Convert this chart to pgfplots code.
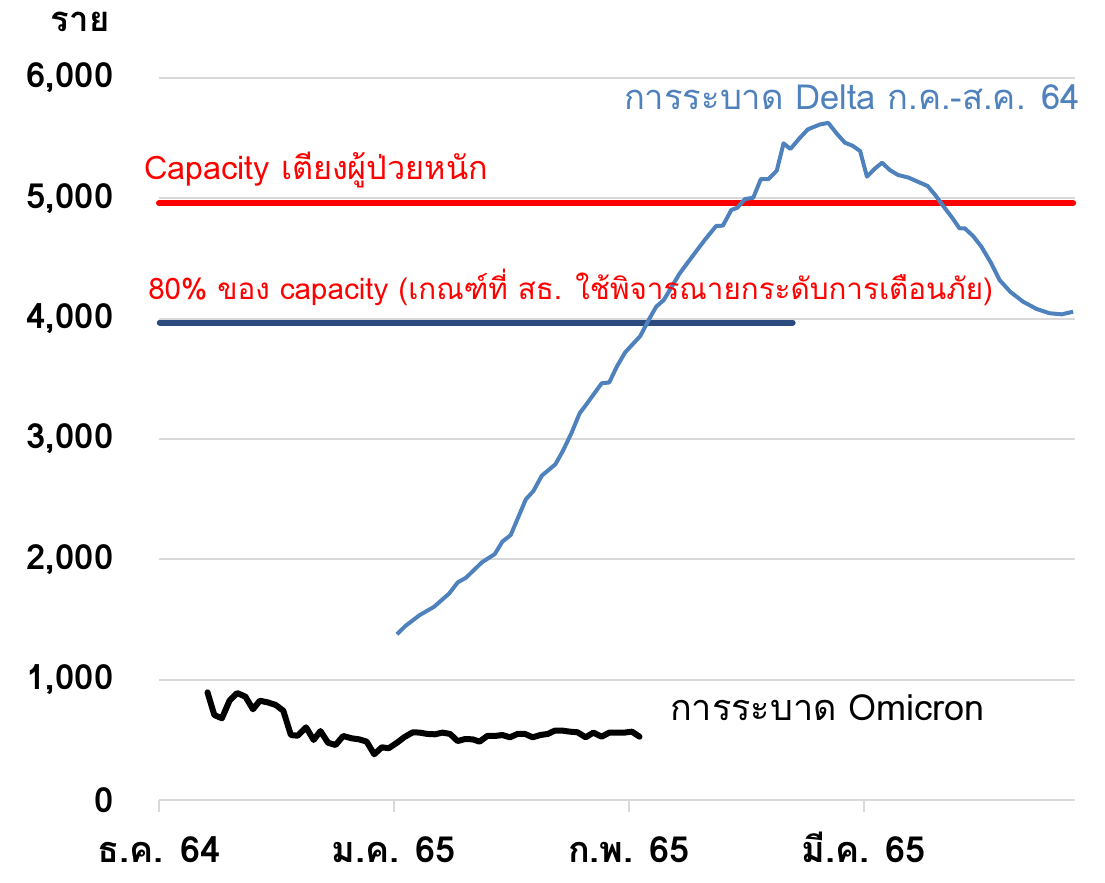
\documentclass[border=0pt]{standalone}
\usepackage{pgfplots}
\pgfplotsset{compat=1.18}
\usepackage{fontspec}
\setmainfont[Script=Thai]{Loma}
\definecolor{deltablue}{HTML}{4F81BD}
\definecolor{capred}{HTML}{FF0000}
\definecolor{navy}{HTML}{2B4A7E}
\definecolor{gridgray}{HTML}{D9D9D9}
\begin{document}
\begin{tikzpicture}
\begin{axis}[
  scale only axis, width=687pt, height=541.5pt,
  xmin=0, xmax=120.85, ymin=0, ymax=6000,
  clip=false,
  axis x line*=bottom, axis y line*=left,
  y axis line style={draw=none},
  x axis line style={draw=gridgray, line width=1.5pt},
  ymajorgrids, grid style={draw=gridgray, line width=1.5pt},
  ytick={0,1000,...,6000},
  xtick={0,31,62,93},
  xticklabels={ธ.ค. 64, ม.ค. 65, ก.พ. 65, มี.ค. 65},
  tick align=outside,
  y tick style={draw=none},
  x tick style={draw=gridgray, line width=1.5pt},
  major tick length=9pt,
  /pgf/number format/assume math mode=true,
  /pgf/number format/1000 sep={,},
  yticklabel style={font=\fontsize{26}{30}\selectfont\bfseries, anchor=east, inner sep=0pt, xshift=-25pt},
  xticklabel style={font=\fontsize{27}{30}\selectfont\bfseries, anchor=base, inner sep=0pt, yshift=-38pt},
]
\addplot[capred, line width=4.5pt, line cap=round] coordinates {(0,4960) (120.6,4960)};
\addplot[navy, line width=4.5pt, line cap=round] coordinates {(0.1,3968) (83.6,3968)};
\addplot[deltablue, line width=3pt, line join=round] coordinates {
(31.4,1377) (32.5,1446) (34.4,1537) (36.3,1606) (38.3,1717) (39.4,1808) (40.5,1847)
(42.6,1975) (44.3,2044) (45.3,2147) (46.4,2202) (48.4,2499) (49.4,2568) (50.5,2695)
(52.3,2790) (53.3,2903) (54.4,3047) (55.5,3214) (56.4,3289) (58.4,3463) (59.4,3470)
(60.4,3601) (61.5,3720) (63.5,3856) (64.6,3989) (65.6,4100) (66.6,4155) (68.7,4377)
(70.5,4529) (72.0,4654) (73.5,4770) (74.4,4773) (75.5,4903) (76.3,4922) (77.3,4994)
(78.4,5005) (79.4,5160) (80.4,5160) (81.5,5230) (82.4,5457) (83.3,5410) (84.5,5499)
(85.6,5573) (87.2,5614) (88.3,5627) (89.4,5539) (90.5,5462) (91.5,5437) (92.5,5393)
(93.4,5180) (94.5,5250) (95.4,5296) (96.4,5236) (97.5,5194) (98.9,5172) (100.4,5130)
(101.4,5103) (102.4,5028) (103.7,4917) (104.7,4834) (105.6,4751) (106.3,4751) (107.4,4687)
(108.5,4598) (109.8,4460) (110.9,4321) (112.3,4224) (114.0,4141) (115.8,4080) (117.5,4045)
(119.1,4036) (120.6,4058)
};
\addplot[black, line width=4.5pt, line join=round, line cap=round] coordinates {
(6.4,895) (7.3,706) (8.3,679) (9.3,825) (10.3,889) (11.4,859) (12.4,754) (13.3,825)
(14.3,812) (15.4,790) (16.4,742) (17.4,540) (18.3,534) (19.4,604) (20.4,499) (21.3,573)
(22.3,476) (23.3,457) (24.3,532) (25.4,513) (26.4,504) (27.4,485) (28.4,380) (29.4,438)
(30.3,430) (31.4,476) (32.4,524) (33.5,563) (34.4,560) (35.4,549) (36.4,546) (37.4,560)
(38.4,549) (39.4,490) (40.4,507) (41.4,504) (42.3,485) (43.3,532) (44.3,532) (45.3,540)
(46.3,521) (47.3,549) (48.3,549) (49.3,521) (50.3,540) (51.3,549) (52.2,576) (53.3,576)
(54.2,568) (55.2,563) (56.3,521) (57.3,560) (58.4,526) (59.4,560) (60.4,560) (61.4,560)
(62.4,568) (63.4,526)
};
\node[font=\fontsize{26}{30}\selectfont\bfseries, anchor=center] at (axis cs:-10.4,6466) {ราย};
\node[font=\fontsize{25.9}{28}\selectfont, text=deltablue, anchor=east, inner sep=0pt] at (axis cs:121.5,5842) {การระบาด Delta ก.ค.-ส.ค. 64};
\node[font=\fontsize{24.3}{28}\selectfont, text=capred, anchor=west, inner sep=0pt] at (axis cs:-2.0,5236) {Capacity เตียงผู้ป่วยหนัก};
\node[font=\fontsize{22.2}{28}\selectfont, text=capred, anchor=west, inner sep=0pt] at (axis cs:-1.45,4263) {80\% ของ capacity (เกณฑ์ที่ สธ. ใช้พิจารณายกระดับการเตือนภัย)};
\node[font=\fontsize{27}{30}\selectfont, text=black, anchor=west, inner sep=0pt] at (axis cs:67.4,765) {การระบาด Omicron};
\end{axis}
\pgfresetboundingbox
\path (-119.25pt,-61.5pt) rectangle (709.5pt,600pt);
\end{tikzpicture}
\end{document}
